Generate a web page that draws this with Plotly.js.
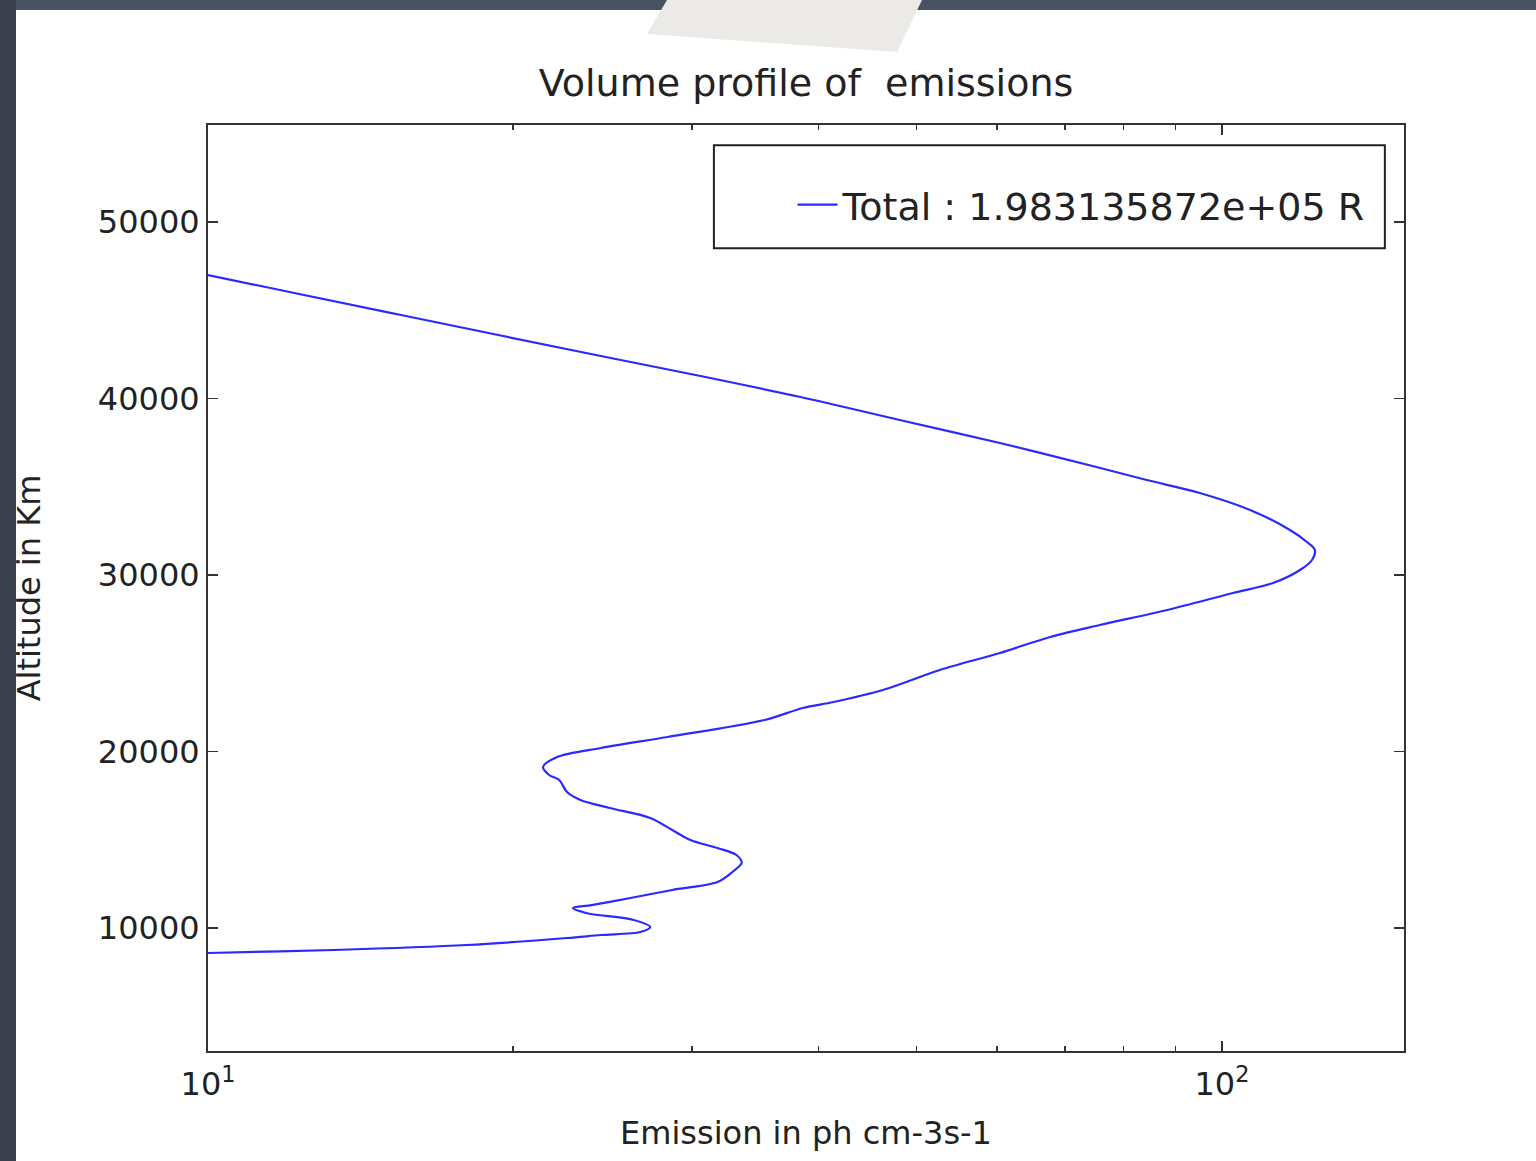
<!DOCTYPE html>
<html><head><meta charset="utf-8">
<script src="https://cdn.plot.ly/plotly-3.0.1.min.js"></script>
<style>
html,body{margin:0;padding:0;width:1536px;height:1161px;overflow:hidden;background:#424956;}
#panel{position:absolute;left:16px;top:10px;right:0;bottom:0;background:#fff;}
#chart{position:absolute;left:0;top:0;width:1536px;height:1161px;}
#stripL{position:absolute;left:0;top:0;width:16px;height:1161px;background:#3b414d;pointer-events:none;}
#stripT{position:absolute;left:0;top:0;width:1536px;height:10px;background:#4a5160;pointer-events:none;}
#note{position:absolute;left:0;top:0;width:1536px;height:60px;background:#ebeae7;clip-path:polygon(667px 0,922px 0,897px 52px,647px 34px);pointer-events:none;}
</style>
</head><body>
<div id="panel"></div>
<div id="chart"></div>
<div id="stripT"></div>
<div id="stripL"></div>
<div id="note"></div>
<script>
// Altitude (km) and emission (ph cm-3 s-1)
var altitude = [8470, 8584, 8754, 9037, 9433, 9603, 9773, 10057, 10453, 10850,
  11133, 11300, 11700, 12153, 12606, 13173, 13683, 14136, 14533, 14986,
  15552, 16232, 16799, 17252, 17705, 18385, 18669, 19122, 19688, 20198,
  20821, 21785, 22465, 22804, 23484, 24618, 25581, 26487, 27167, 28017,
  28980, 29547, 30283, 30850, 31416, 31870, 32550, 33683, 34646, 35382,
  36119, 37479, 38782, 40085, 41275, 42408, 44731, 45921, 46997, 47677];
var emission = [8.77, 10.0, 13.3, 18.0, 22.6, 24.4, 26.7, 27.3, 26.3, 23.6,
  22.9, 23.9, 26.1, 28.7, 31.8, 32.9, 33.6, 33.2, 31.8, 29.9,
  28.7, 27.3, 24.9, 23.3, 22.6, 22.2, 21.7, 21.4, 22.1, 24.4,
  28.4, 35.4, 38.6, 41.4, 46.3, 52.7, 60.4, 67.7, 75.8, 88.3,
  102.5, 112.3, 119.4, 122.7, 123.5, 121.3, 116.7, 106.6, 95.1, 84.3,
  75.2, 60.4, 48.1, 38.4, 30.6, 24.4, 15.5, 12.3, 10.0, 8.77];
var seriesName = 'Total : 1.983135872e+05 R';
var xTickVals = [10, 100];
var xTickText = ['10<sup>1</sup>', '10<sup>2</sup>'];
var xMinorVals = [20, 30, 40, 50, 60, 70, 80, 90];
var yTickVals = [10000, 20000, 30000, 40000, 50000];
var yTickText = ['10000', '20000', '30000', '40000', '50000'];

var trace = {
  x: emission, y: altitude, type: 'scatter', mode: 'lines',
  name: seriesName,
  line: {color: '#2a2aff', width: 2.2, shape: 'spline', smoothing: 0.9}
};
var axisColor = '#333333';
var layout = {
  width: 1536, height: 1161,
  margin: {l: 208, r: 132, t: 125, b: 110},
  paper_bgcolor: 'rgba(0,0,0,0)', plot_bgcolor: '#ffffff',
  font: {family: 'DejaVu Sans', color: '#222222', size: 32},
  showlegend: true,
  title: {text: 'Volume profile of\u00a0 emissions', font: {size: 38, color: '#222222'},
    x: 0.5, xref: 'paper', xanchor: 'center', y: 1 - 83/1161, yref: 'container', yanchor: 'middle'},
  xaxis: {type: 'log', range: [1, Math.log10(151.2)], tickmode: 'array', tickvals: xTickVals, ticktext: xTickText,
    ticks: 'inside', ticklen: 10, tickwidth: 1.5, tickcolor: axisColor,
    showline: true, linecolor: axisColor, linewidth: 2, mirror: 'ticks',
    showgrid: false, zeroline: false, tickfont: {size: 32}, ticklabelstandoff: 4,
    minor: {tickmode: 'array', tickvals: xMinorVals, ticks: 'inside', ticklen: 5, tickwidth: 1.5, tickcolor: axisColor, showgrid: false},
    title: {text: 'Emission in ph cm-3s-1', font: {size: 32}, standoff: 19}},
  yaxis: {range: [3031, 55496], tickmode: 'array', tickvals: yTickVals, ticktext: yTickText,
    ticks: 'inside', ticklen: 10, tickwidth: 1.5, tickcolor: axisColor,
    showline: true, linecolor: axisColor, linewidth: 2, mirror: 'ticks',
    showgrid: false, zeroline: false, tickfont: {size: 32},
    title: {text: 'Altitude in Km', font: {size: 32}, standoff: 48}},
  legend: {x: 0.972, xanchor: 'right', y: 0.9136, yanchor: 'middle', bgcolor: 'rgba(0,0,0,0)',
    borderwidth: 0, font: {size: 38, color: '#222222'}, itemwidth: 40},
  shapes: [{type: 'rect', xref: 'paper', yref: 'paper', x0: 0.423, x1: 0.984, y0: 0.867, y1: 0.978,
    line: {color: '#222222', width: 2}, fillcolor: 'rgba(0,0,0,0)', layer: 'above'}]
};
Plotly.newPlot('chart', [trace], layout, {displayModeBar: false, staticPlot: true});
</script>
</body></html>
